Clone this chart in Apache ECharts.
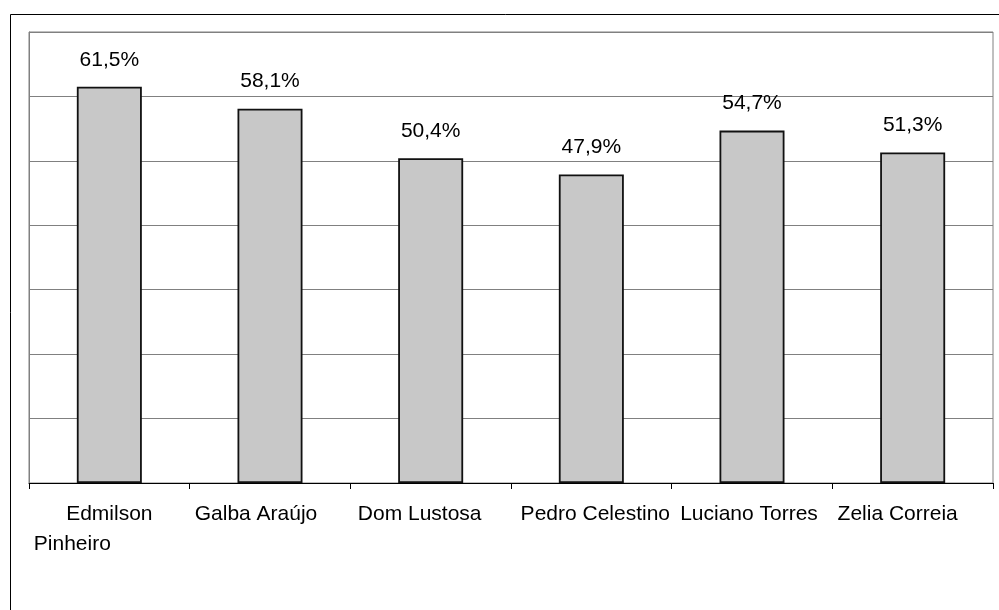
<!DOCTYPE html>
<html>
<head>
<meta charset="utf-8">
<script src="https://cdn.jsdelivr.net/npm/echarts@6/dist/echarts.min.js"></script>
<style>
html,body{margin:0;padding:0;background:#fff;}
#chart{width:999px;height:610px;}
</style>
</head>
<body>
<div id="chart"></div>
<script>
// Data
const categories = ['Edmilson Pinheiro', 'Galba Araújo', 'Dom Lustosa', 'Pedro Celestino', 'Luciano Torres', 'Zelia Correia'];
const values = [61.5, 58.1, 50.4, 47.9, 54.7, 51.3];
const valueLabels = ['61,5%', '58,1%', '50,4%', '47,9%', '54,7%', '51,3%'];
// label lines as displayed (wrapped) and horizontal shift of each line
const labelLines = [['Edmilson', 'Pinheiro'], ['Galba Araújo'], ['Dom Lustosa'], ['Pedro Celestino'], ['Luciano Torres'], ['Zelia Correia']];
const labelShifts = [[0, -37], [-14], [-11], [4], [-3], [-15]];

const FONT = "'Liberation Sans', Arial, Helvetica, sans-serif";
const FS = 21;
const rich = {};
const catLabelMap = {};
categories.forEach((c, i) => {
  const parts = labelLines[i].map((line, j) => {
    const s = labelShifts[i][j];
    const key = 'l' + i + '_' + j;
    rich[key] = {
      fontFamily: FONT, fontSize: FS, color: '#000', lineHeight: 30,
      padding: [0, s < 0 ? -2 * s : 0, 0, s > 0 ? 2 * s : 0]
    };
    return '{' + key + '|' + line + '}';
  });
  catLabelMap[c] = parts.join('\n');
});

const chart = echarts.init(document.getElementById('chart'), null, {renderer: 'canvas'});
chart.setOption({
  animation: false,
  backgroundColor: '#fff',
  graphic: [{
    type: 'rect', left: 8, top: 12, silent: true,
    shape: {width: 1100, height: 800},
    style: {fill: 'none', stroke: '#000', lineWidth: 1}
  }],
  grid: {
    left: 29, top: 32, right: 6, bottom: 127,
    show: true, borderColor: '#808080', borderWidth: 1, backgroundColor: 'transparent'
  },
  xAxis: {
    type: 'category',
    data: categories,
    axisLine: {show: true, lineStyle: {color: '#000', width: 1}},
    axisTick: {show: true, length: 6, lineStyle: {color: '#000'}},
    axisLabel: {
      margin: 16, interval: 0,
      formatter: v => catLabelMap[v],
      rich: rich,
      fontFamily: FONT, fontSize: FS, color: '#000'
    },
    splitLine: {show: false}
  },
  yAxis: {
    type: 'value', min: 0, max: 70, interval: 10,
    axisLine: {show: true, lineStyle: {color: '#808080'}},
    axisTick: {show: false},
    axisLabel: {show: false},
    splitLine: {show: true, lineStyle: {color: '#808080', width: 1}}
  },
  series: [{
    type: 'bar',
    data: values,
    barWidth: 65,
    itemStyle: {color: '#c8c8c8', borderColor: '#111', borderWidth: 1.8},
    label: {
      show: true, position: 'top', distance: 16,
      formatter: p => valueLabels[p.dataIndex],
      fontFamily: FONT, fontSize: FS, lineHeight: 22, color: '#000'
    }
  }]
});
</script>
</body>
</html>
